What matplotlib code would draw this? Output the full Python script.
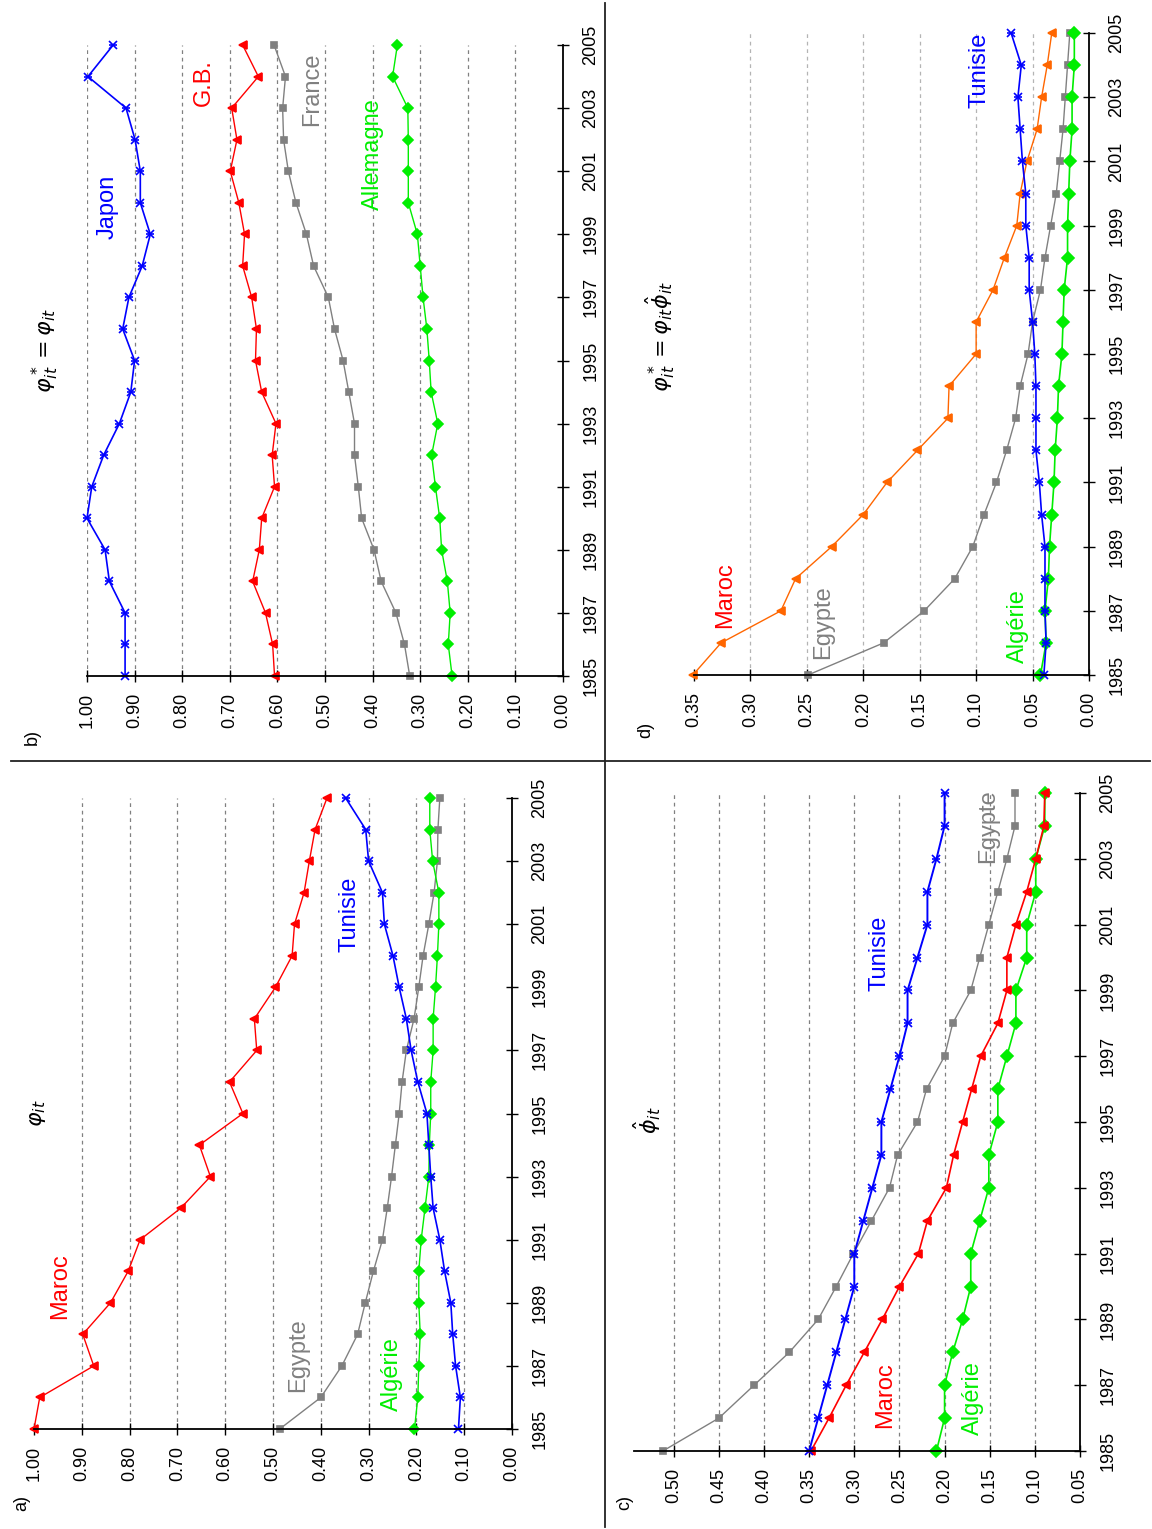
import matplotlib
matplotlib.use("Agg")
import matplotlib.pyplot as plt
from matplotlib.lines import Line2D

plt.rcParams['font.family'] = ['Liberation Sans', 'DejaVu Sans']
plt.rcParams['mathtext.fontset'] = 'dejavusans'

W, H = 1152, 1529

years = list(range(1985, 2006))
year_ticks = list(range(1985, 2006, 2))

# panel a) phi_it
a_maroc = [1.00, 0.988, 0.875, 0.898, 0.84, 0.803, 0.778, 0.693, 0.631, 0.654, 0.563,
           0.591, 0.534, 0.539, 0.495, 0.46, 0.455, 0.435, 0.424, 0.412, 0.387]
a_egypte = [0.486, 0.40, 0.356, 0.323, 0.307, 0.29, 0.271, 0.261, 0.252, 0.244, 0.236,
            0.23, 0.221, 0.205, 0.195, 0.186, 0.174, 0.163, 0.156, 0.155, 0.151]
a_algerie = [0.204, 0.197, 0.195, 0.192, 0.195, 0.195, 0.19, 0.182, 0.174, 0.173, 0.17,
             0.17, 0.165, 0.165, 0.16, 0.156, 0.153, 0.153, 0.166, 0.172, 0.172]
a_tunisie = [0.112, 0.108, 0.118, 0.124, 0.128, 0.141, 0.151, 0.165, 0.17, 0.174, 0.178,
             0.197, 0.211, 0.221, 0.236, 0.249, 0.267, 0.271, 0.30, 0.306, 0.348]

# panel b) phi*_it = phi_it
b_japon = [0.92, 0.92, 0.92, 0.953, 0.962, 1.00, 0.99, 0.965, 0.932, 0.908, 0.90,
           0.925, 0.912, 0.884, 0.867, 0.888, 0.888, 0.899, 0.918, 0.998, 0.945]
b_gb = [0.606, 0.61, 0.625, 0.652, 0.638, 0.633, 0.606, 0.611, 0.603, 0.633, 0.646,
        0.644, 0.654, 0.673, 0.669, 0.681, 0.699, 0.685, 0.696, 0.64, 0.673]
b_france = [0.322, 0.333, 0.351, 0.382, 0.397, 0.423, 0.43, 0.438, 0.438, 0.45, 0.462,
            0.48, 0.493, 0.524, 0.539, 0.561, 0.577, 0.587, 0.589, 0.583, 0.607]
b_allemagne = [0.233, 0.241, 0.237, 0.243, 0.255, 0.259, 0.268, 0.276, 0.263, 0.277, 0.281,
               0.286, 0.294, 0.30, 0.306, 0.325, 0.325, 0.325, 0.326, 0.358, 0.348]

# panel c) phi-hat_it
c_egypte = [0.512, 0.45, 0.411, 0.372, 0.34, 0.32, 0.301, 0.281, 0.261, 0.252, 0.23,
            0.22, 0.20, 0.191, 0.171, 0.161, 0.151, 0.141, 0.131, 0.122, 0.122]
c_tunisie = [0.35, 0.34, 0.33, 0.32, 0.31, 0.30, 0.30, 0.29, 0.28, 0.27, 0.27,
             0.26, 0.25, 0.241, 0.241, 0.23, 0.219, 0.219, 0.209, 0.20, 0.20]
c_maroc = [0.348, 0.328, 0.309, 0.289, 0.269, 0.25, 0.229, 0.219, 0.198, 0.19, 0.18,
           0.17, 0.16, 0.141, 0.131, 0.131, 0.121, 0.109, 0.099, 0.09, 0.089]
c_algerie = [0.209, 0.20, 0.20, 0.191, 0.18, 0.171, 0.171, 0.161, 0.151, 0.151, 0.141,
             0.141, 0.131, 0.121, 0.121, 0.109, 0.109, 0.099, 0.099, 0.089, 0.089]

# panel d) phi*_it = phi_it * phi-hat_it
d_maroc = [0.351, 0.326, 0.273, 0.26, 0.228, 0.20, 0.179, 0.152, 0.125, 0.124, 0.10,
           0.10, 0.085, 0.075, 0.064, 0.061, 0.055, 0.046, 0.042, 0.037, 0.033]
d_egypte = [0.249, 0.182, 0.146, 0.119, 0.103, 0.093, 0.082, 0.073, 0.065, 0.061, 0.054,
            0.05, 0.043, 0.039, 0.034, 0.029, 0.026, 0.023, 0.021, 0.019, 0.017]
d_algerie = [0.043, 0.038, 0.039, 0.036, 0.035, 0.033, 0.031, 0.03, 0.028, 0.027, 0.024,
             0.023, 0.022, 0.019, 0.019, 0.018, 0.017, 0.015, 0.015, 0.013, 0.013]
d_tunisie = [0.04, 0.038, 0.039, 0.039, 0.039, 0.042, 0.044, 0.047, 0.047, 0.047, 0.048,
             0.05, 0.053, 0.053, 0.056, 0.056, 0.059, 0.061, 0.063, 0.06, 0.069]

ticks_a = [1.0, 0.9, 0.8, 0.7, 0.6, 0.5, 0.4, 0.3, 0.2, 0.1, 0.0]
ticks_c = [0.50, 0.45, 0.40, 0.35, 0.30, 0.25, 0.20, 0.15, 0.10, 0.05]
ticks_d = [0.35, 0.30, 0.25, 0.20, 0.15, 0.10, 0.05, 0.00]

RED = '#ff0000'
ORANGE = '#ff6600'
BLUE = '#0000ff'
GREEN = '#00ee00'
GRAY = '#808080'

fig = plt.figure(figsize=(W / 100, H / 100), dpi=100)


def px_axes(left, top, right, bottom):
    return fig.add_axes([left / W, 1 - bottom / H, (right - left) / W, (bottom - top) / H])


def ptext(x, y, s, color='black', size=17):
    fig.text(x / W, 1 - y / H, s, color=color, fontsize=size, rotation=90,
             ha='center', va='center')


def setup(ax, hi, lo, ticks, grid_vals, grid_color=GRAY):
    ax.set_xlim(hi, lo)
    ax.set_ylim(1985, 2005)
    for g in grid_vals:
        ax.axvline(g, color=grid_color, lw=0.9, ls=(0, (3, 3)), zorder=0)
    ax.set_xticks(ticks)
    ax.set_xticklabels(['%.2f' % t for t in ticks], rotation=90)
    ax.set_yticks(year_ticks)
    ax.set_yticklabels([str(y) for y in year_ticks], rotation=90, va='center')
    ax.yaxis.tick_right()
    ax.tick_params(axis='x', direction='inout', length=8, width=1, labelsize=13, pad=8)
    ax.tick_params(axis='y', direction='inout', length=8, width=1, labelsize=13, pad=10)
    for side in ['top', 'left']:
        ax.spines[side].set_visible(False)
    for side in ['bottom', 'right']:
        ax.spines[side].set_linewidth(1.3)
        ax.spines[side].set_zorder(5)


def line(ax, vals, color, marker, ms, lw=1.0):
    ax.plot(vals, years, color=color, lw=lw, marker=marker, markersize=ms,
            markeredgewidth=1.2, clip_on=False, zorder=3)
    if marker == 'x':
        # star-like marker: cross plus a bar
        ax.plot(vals, years, ls='none', color=color, marker='_', markersize=ms,
                markeredgewidth=1.2, clip_on=False, zorder=3)


# a)
ax = px_axes(34, 798, 512, 1429)
setup(ax, 1.0, 0.0, ticks_a, ticks_a[1:-1])
line(ax, a_maroc, RED, '<', 6)
line(ax, a_egypte, GRAY, 's', 5)
line(ax, a_algerie, GREEN, 'D', 5)
line(ax, a_tunisie, BLUE, 'x', 6, lw=1.2)
ptext(37, 1113, r'$\varphi_{it}$', size=16)
ptext(60, 1286, 'Maroc', RED)
ptext(298, 1355, 'Egypte', GRAY)
ptext(392, 1374, 'Algérie', GREEN)
ptext(350, 914, 'Tunisie', BLUE)
ptext(22, 1503, 'a)', size=13)

# b)
ax = px_axes(87, 45, 563, 676)
setup(ax, 1.0, 0.0, ticks_a, ticks_a[:-1])
line(ax, b_japon, BLUE, 'x', 6, lw=1.2)
line(ax, b_gb, RED, '<', 6)
line(ax, b_france, GRAY, 's', 5)
line(ax, b_allemagne, GREEN, 'D', 5)
ptext(45, 351, r'$\varphi^*_{it}=\varphi_{it}$', size=16)
ptext(108, 207, 'Japon', BLUE)
ptext(204, 83, 'G.B.', RED)
ptext(312, 89, 'France', GRAY)
ptext(373, 154, 'Allemagne', GREEN)
ptext(32, 737, 'b)', size=13)

# c)
ax = px_axes(634, 793, 1080, 1451)
setup(ax, 0.544, 0.05, ticks_c, ticks_c[:-1])
line(ax, c_egypte, GRAY, 's', 5)
line(ax, c_algerie, GREEN, 'D', 6, lw=1.2)
line(ax, c_maroc, RED, '<', 6, lw=1.2)
line(ax, c_tunisie, BLUE, 'x', 6, lw=1.4)
ptext(647, 1120, r'$\hat{\phi}_{it}$', size=16)
ptext(880, 953, 'Tunisie', BLUE)
ptext(988, 826, 'Egypte', GRAY)
ptext(885, 1395, 'Maroc', RED)
ptext(973, 1398, 'Algérie', GREEN)
ptext(625, 1503, 'c)', size=13)

# d)
ax = px_axes(694, 33, 1089, 675)
setup(ax, 0.35, 0.0, ticks_d, ticks_d[1:-1], grid_color='#b4b4b4')
line(ax, d_maroc, ORANGE, '<', 6)
line(ax, d_egypte, GRAY, 's', 5)
line(ax, d_algerie, GREEN, 'D', 6, lw=1.2)
line(ax, d_tunisie, BLUE, 'x', 6, lw=1.2)
ptext(660, 337, r'$\varphi^*_{it}=\varphi_{it}\hat{\phi}_{it}$', size=16)
ptext(980, 70, 'Tunisie', BLUE)
ptext(725, 595, 'Maroc', RED)
ptext(823, 622, 'Egypte', GRAY)
ptext(1018, 626, 'Algérie', GREEN)
ptext(646, 730, 'd)', size=13)

# separators between the four panels
fig.add_artist(Line2D([11 / W, 1150 / W], [1 - 761 / H, 1 - 761 / H], color='#222222', lw=1.3))
fig.add_artist(Line2D([605 / W, 605 / W], [1 - 3 / H, 1 - 1527 / H], color='#222222', lw=1.3))

fig.savefig('out.png', dpi=100)
